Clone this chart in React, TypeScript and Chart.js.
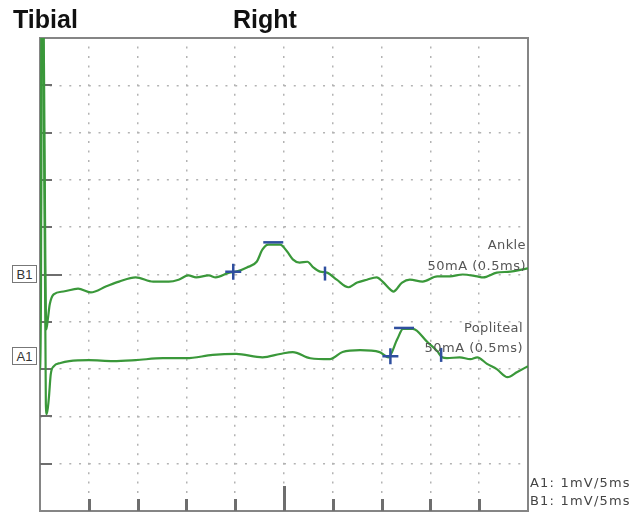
import React, { useEffect, useRef } from "react";
import { Chart, registerables } from "chart.js";

Chart.register(...registerables);

// ---- axes (5 ms / division, 1 mV / division) ----
const X_TICKS = [0, 5, 10, 15, 20, 25, 30, 35, 40, 45, 50];
const Y_TICKS = [-5, -4, -3, -2, -1, 0, 1, 2, 3, 4, 5];

// baselines of the two channels (in divisions)
const B1_BASELINE = 0;
const A1_BASELINE = -2;

// ---- B1: Ankle stimulation ----
const ankleTime = [0, 0.1, 0.15, 0.3, 0.65, 0.8, 1.0, 1.4, 2.4, 3.9, 5.2, 6.8, 8.1, 9.8, 11.6, 13.2, 14.2, 15.2, 16.0, 17.3, 18.0, 19.4, 20.1, 21.2, 22.2, 22.8, 23.4, 24.6, 25.3, 25.9, 26.6, 27.4, 28.0, 28.7, 29.4, 30.4, 31.6, 32.5, 33.5, 34.5, 35.1, 35.9, 36.2, 37.1, 37.9, 39.2, 40.7, 42.0, 43.3, 44.8, 45.4, 46.8, 48.2, 49.5, 50];
const ankleAmp = [0, 0, 6, 6, -1.16, -0.95, -0.63, -0.42, -0.36, -0.30, -0.38, -0.25, -0.15, -0.06, -0.15, -0.15, -0.11, -0.02, -0.06, -0.02, -0.06, 0.04, 0.06, 0.15, 0.27, 0.53, 0.63, 0.63, 0.49, 0.32, 0.25, 0.27, 0.15, 0.06, 0.04, -0.11, -0.27, -0.17, -0.11, -0.06, -0.15, -0.32, -0.36, -0.17, -0.11, -0.15, -0.04, -0.04, 0, -0.04, -0.06, 0.04, 0.06, 0.11, 0.13];

// ---- A1: Popliteal stimulation ----
const poplitealTime = [0, 0.1, 0.15, 0.3, 0.6, 0.7, 0.9, 1.1, 1.4, 2.1, 3.0, 5.0, 7.5, 9.8, 12.6, 15.0, 17.7, 20.1, 22.8, 24.6, 25.9, 27.7, 29.7, 31.0, 32.8, 34.8, 35.7, 36.6, 37.2, 38.2, 39.7, 40.7, 41.2, 41.7, 43.0, 44.1, 44.8, 45.8, 46.8, 47.9, 48.9, 50];
const poplitealAmp = [0, 0, 8, 8, -0.74, -0.95, -0.63, -0.11, 0.06, 0.13, 0.17, 0.19, 0.17, 0.19, 0.23, 0.23, 0.30, 0.32, 0.25, 0.32, 0.36, 0.23, 0.21, 0.36, 0.40, 0.36, 0.25, 0.63, 0.85, 0.85, 0.57, 0.38, 0.25, 0.23, 0.25, 0.21, 0.25, 0.11, 0, -0.17, -0.06, 0.06];

// ---- cursor markers (onset, peak, end) ----
const ankleMarkTime = [19.8, 23.9, 29.2];
const ankleMarkAmp = [0.06, 0.68, 0.02];
const poplitealMarkTime = [35.9, 37.3, 41.1];
const poplitealMarkAmp = [0.27, 0.87, 0.30];

const MARK_STYLES = ["cross", "line", "line"];
const MARK_ROT = [0, 0, 90];
const MARK_RADIUS = [8, 10, 7];

const TRACE_COLOR = "#3a983a";
const MARK_COLOR = "#2f4f9f";

const framePlugin = {
  id: "frame",
  beforeDatasetsDraw(chart: any) {
    const { ctx, chartArea: a, scales } = chart;
    ctx.save();
    ctx.strokeStyle = "#858585";
    ctx.lineWidth = 2;
    ctx.strokeRect(a.left, a.top, a.right - a.left, a.bottom - a.top);
    // bottom division ticks
    ctx.strokeStyle = "#6e6e6e";
    ctx.lineWidth = 3;
    for (const v of X_TICKS) {
      if (v === X_TICKS[0] || v === X_TICKS[X_TICKS.length - 1]) continue;
      const px = Math.round(scales.x.getPixelForValue(v)) + 0.5;
      const len = v === 25 ? 25 : 12;
      ctx.beginPath();
      ctx.moveTo(px, a.bottom);
      ctx.lineTo(px, a.bottom - len);
      ctx.stroke();
    }
    // left division ticks
    ctx.lineWidth = 2;
    for (const v of Y_TICKS) {
      if (v === Y_TICKS[0] || v === Y_TICKS[Y_TICKS.length - 1]) continue;
      const py = Math.round(scales.y.getPixelForValue(v));
      const len = v === B1_BASELINE ? 22 : 12;
      ctx.beginPath();
      ctx.moveTo(a.left, py);
      ctx.lineTo(a.left + len, py);
      ctx.stroke();
    }
    ctx.restore();
  },
};

const smallText: React.CSSProperties = {
  position: "absolute",
  fontFamily: '"DejaVu Sans", sans-serif',
  fontSize: 13,
  lineHeight: "13px",
  whiteSpace: "nowrap",
  color: "#555",
};

const boxStyle: React.CSSProperties = {
  position: "absolute",
  left: 12,
  width: 25,
  height: 18,
  boxSizing: "border-box",
  border: "1.5px solid #777",
  fontFamily: '"Liberation Sans", Arial, sans-serif',
  fontSize: 13,
  color: "#333",
  display: "flex",
  alignItems: "center",
  justifyContent: "center",
  background: "#fff",
};

export default function App() {
  const ref = useRef<HTMLCanvasElement>(null);

  useEffect(() => {
    const canvas = ref.current;
    if (!canvas) return;
    const trace = (t: number[], amp: number[], base: number) =>
      t.map((x, i) => ({ x, y: amp[i] + base }));

    const markerSet = (t: number[], amp: number[], base: number) => ({
      type: "line" as const,
      data: trace(t, amp, base),
      showLine: false,
      pointStyle: MARK_STYLES as any,
      rotation: MARK_ROT,
      pointRadius: MARK_RADIUS,
      pointBorderColor: MARK_COLOR,
      pointBackgroundColor: MARK_COLOR,
      pointBorderWidth: 2.5,
      borderColor: MARK_COLOR,
      order: 0,
      clip: 20,
    });

    const traceSet = (t: number[], amp: number[], base: number) => ({
      type: "line" as const,
      data: trace(t, amp, base),
      borderColor: TRACE_COLOR,
      borderWidth: 2.2,
      pointRadius: 0,
      cubicInterpolationMode: "monotone" as const,
      fill: false,
      order: 1,
      clip: 0,
    });

    const chart = new Chart(canvas, {
      type: "line",
      data: {
        datasets: [
          markerSet(ankleMarkTime, ankleMarkAmp, B1_BASELINE),
          markerSet(poplitealMarkTime, poplitealMarkAmp, A1_BASELINE),
          traceSet(ankleTime, ankleAmp, B1_BASELINE),
          traceSet(poplitealTime, poplitealAmp, A1_BASELINE),
        ] as any,
      },
      options: {
        responsive: false,
        devicePixelRatio: 1,
        animation: false,
        layout: { autoPadding: false, padding: { left: 40, top: 38, right: 114, bottom: 3 } },
        plugins: { legend: { display: false }, tooltip: { enabled: false } },
        scales: {
          x: {
            type: "linear",
            min: X_TICKS[0],
            max: X_TICKS[X_TICKS.length - 1],
            afterBuildTicks: (s: any) => {
              s.ticks = X_TICKS.map((v) => ({ value: v }));
            },
            ticks: { display: false },
            grid: { color: "#b3b3b3", lineWidth: 1.5, drawTicks: false },
            border: { display: true, color: "#858585", width: 2, dash: [2, 7.46], dashOffset: 1 },
          },
          y: {
            type: "linear",
            min: Y_TICKS[0],
            max: Y_TICKS[Y_TICKS.length - 1],
            afterBuildTicks: (s: any) => {
              s.ticks = Y_TICKS.map((v) => ({ value: v }));
            },
            ticks: { display: false },
            grid: { color: "#b3b3b3", lineWidth: 1.5, drawTicks: false },
            border: { display: true, color: "#858585", width: 2, dash: [2, 7.76], dashOffset: 1 },
          },
        },
      },
      plugins: [framePlugin],
    });
    return () => chart.destroy();
  }, []);

  return (
    <div
      style={{
        position: "absolute",
        left: 0,
        top: 0,
        width: 642,
        height: 514,
        background: "#fff",
        overflow: "hidden",
      }}
    >
      <canvas
        ref={ref}
        width={642}
        height={514}
        style={{ position: "absolute", left: 0, top: 0, width: 642, height: 514 }}
      />
      <div
        style={{
          position: "absolute",
          left: 13,
          top: 7,
          fontFamily: '"Liberation Sans", Arial, sans-serif',
          fontWeight: "bold",
          fontSize: 25,
          lineHeight: "25px",
          color: "#111",
        }}
      >
        Tibial
      </div>
      <div
        style={{
          position: "absolute",
          left: 233,
          top: 7,
          fontFamily: '"Liberation Sans", Arial, sans-serif',
          fontWeight: "bold",
          fontSize: 25,
          lineHeight: "25px",
          color: "#111",
        }}
      >
        Right
      </div>

      <div style={{ ...boxStyle, top: 265 }}>B1</div>
      <div style={{ ...boxStyle, top: 347 }}>A1</div>

      <div style={{ ...smallText, right: 116, top: 238, letterSpacing: 0.4 }}>Ankle</div>
      <div style={{ ...smallText, right: 116, top: 259, letterSpacing: 0.5 }}>50mA (0.5ms)</div>
      <div style={{ ...smallText, right: 119, top: 321, letterSpacing: 0.4 }}>Popliteal</div>
      <div style={{ ...smallText, right: 119, top: 341, letterSpacing: 0.5 }}>50mA (0.5ms)</div>

      <div style={{ ...smallText, left: 530, top: 476, letterSpacing: 1.2, color: "#444" }}>A1: 1mV/5ms</div>
      <div style={{ ...smallText, left: 530, top: 494, letterSpacing: 1.2, color: "#444" }}>B1: 1mV/5ms</div>
    </div>
  );
}
